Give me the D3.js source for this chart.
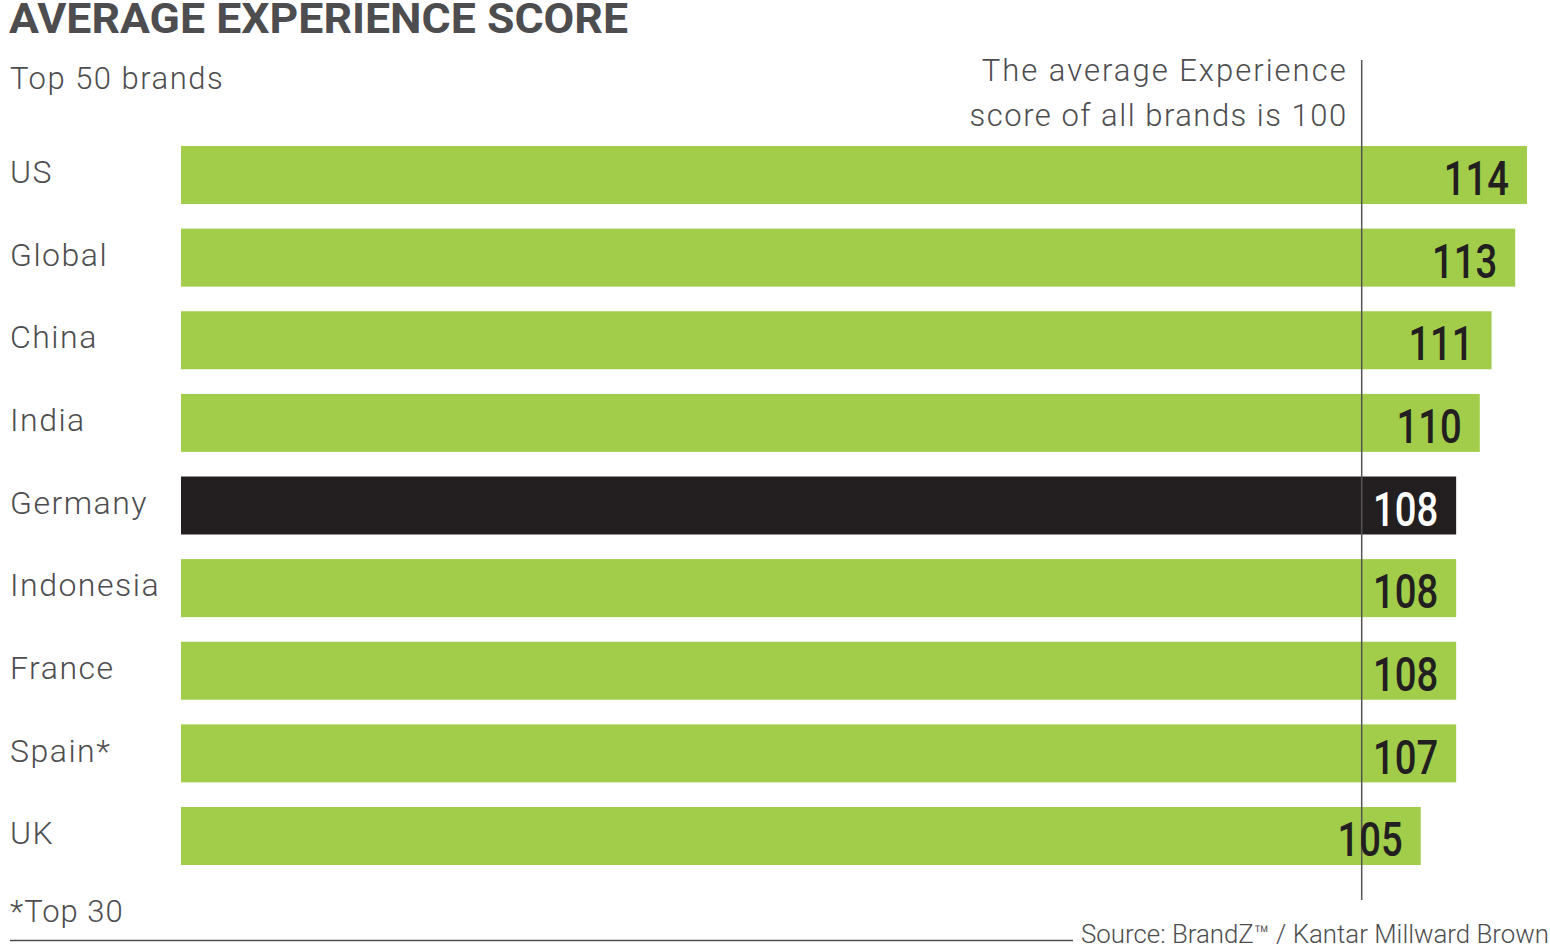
<!DOCTYPE html>
<html>
<head>
<meta charset="utf-8">
<script src="https://cdn.jsdelivr.net/npm/d3@7"></script>
<style>
  html, body { margin: 0; padding: 0; background: #ffffff; }
  svg { display: block; }
</style>
</head>
<body>
<svg id="chart" width="1550" height="951"></svg>
<script>
// ---- data ----
const categories = ["US", "Global", "China", "India", "Germany", "Indonesia", "France", "Spain*", "UK"];
const values = [114, 113, 111, 110, 108, 108, 108, 108, 105];   // bar lengths as drawn
const valueLabels = ["114", "113", "111", "110", "108", "108", "108", "107", "105"];
const highlight = ["Germany"];
const averageScore = 100;
const titleText = "AVERAGE EXPERIENCE SCORE";
const subtitleText = "Top 50 brands";
const noteLines = ["The average Experience", "score of all brands is 100"];
const footnoteText = "*Top 30";
const sourceText = "Source: BrandZ\u2122 / Kantar Millward Brown";

// ---- drawing ----
const svg = d3.select("#chart");
const green = "#a1cd4a", black = "#231f20", grey = "#4d4d4f";
const lightFont = "'Roboto', 'DejaVu Sans', sans-serif";

// condense a text element horizontally to a given ratio of its natural width
function condense(sel, ratio) {
  sel.each(function () {
    const w = this.getComputedTextLength();
    d3.select(this).attr("textLength", w * ratio).attr("lengthAdjust", "spacingAndGlyphs");
  });
}

const x = d3.scaleLinear().domain([0, 114]).range([181, 1527]);
const y = d3.scaleBand().domain(categories).range([146, 865]).paddingInner(0.298).paddingOuter(0);

// title
svg.append("text").attr("x", 9).attr("y", 33)
  .attr("font-family", lightFont).attr("font-weight", 700).attr("font-size", 42)
  .attr("fill", grey).text(titleText)
  .attr("textLength", 619).attr("lengthAdjust", "spacingAndGlyphs");

svg.append("text").attr("x", 10).attr("y", 89)
  .attr("font-family", lightFont).attr("font-weight", 300).attr("font-size", 31)
  .attr("letter-spacing", 1.5).attr("fill", grey).text(subtitleText);

// bars
svg.append("g").selectAll("rect").data(categories).join("rect")
  .attr("x", x(0)).attr("y", d => y(d))
  .attr("width", (d, i) => x(values[i]) - x(0))
  .attr("height", y.bandwidth())
  .attr("fill", d => highlight.includes(d) ? black : green);

// average line
svg.append("line")
  .attr("x1", x(averageScore)).attr("x2", x(averageScore))
  .attr("y1", 60).attr("y2", 900)
  .attr("stroke", "#555555").attr("stroke-width", 1.5);

// note
svg.append("text").attr("text-anchor", "end")
  .attr("font-family", lightFont).attr("font-weight", 300).attr("font-size", 31)
  .attr("fill", grey)
  .selectAll("tspan").data(noteLines).join("tspan")
  .attr("x", x(averageScore) - 14)
  .attr("y", (d, i) => 81 + i * 45)
  .attr("letter-spacing", (d, i) => i === 0 ? 2 : 1.5)
  .text(d => d);

// category labels
svg.append("g").selectAll("text").data(categories).join("text")
  .attr("x", 10).attr("y", d => y(d) + y.bandwidth() / 2 - 3)
  .attr("dy", "0.35em")
  .attr("font-family", lightFont).attr("font-weight", 300).attr("font-size", 32)
  .attr("letter-spacing", 1.5).attr("fill", grey)
  .text(d => d);

// value labels
svg.append("g").selectAll("text").data(categories).join("text")
  .attr("x", (d, i) => x(values[i]) - 18)
  .attr("y", d => y(d) + y.bandwidth() / 2 + 3)
  .attr("dy", "0.35em").attr("text-anchor", "end")
  .attr("font-family", lightFont).attr("font-weight", 500).attr("font-size", 49)
  .attr("fill", d => highlight.includes(d) ? "#ffffff" : black)
  .text((d, i) => valueLabels[i])
  .call(condense, 0.78);

// footnote
svg.append("text").attr("x", 10).attr("y", 922)
  .attr("font-family", lightFont).attr("font-weight", 300).attr("font-size", 31)
  .attr("letter-spacing", 1).attr("fill", grey).text(footnoteText);

// source + rule
svg.append("line").attr("x1", 10).attr("x2", 1073).attr("y1", 940.5).attr("y2", 940.5)
  .attr("stroke", grey).attr("stroke-width", 1.5);
svg.append("text").attr("x", 1549).attr("y", 943).attr("text-anchor", "end")
  .attr("font-family", lightFont).attr("font-weight", 300).attr("font-size", 25)
  .attr("fill", grey).text(sourceText)
  .attr("textLength", 468).attr("lengthAdjust", "spacingAndGlyphs");
</script>
</body>
</html>
